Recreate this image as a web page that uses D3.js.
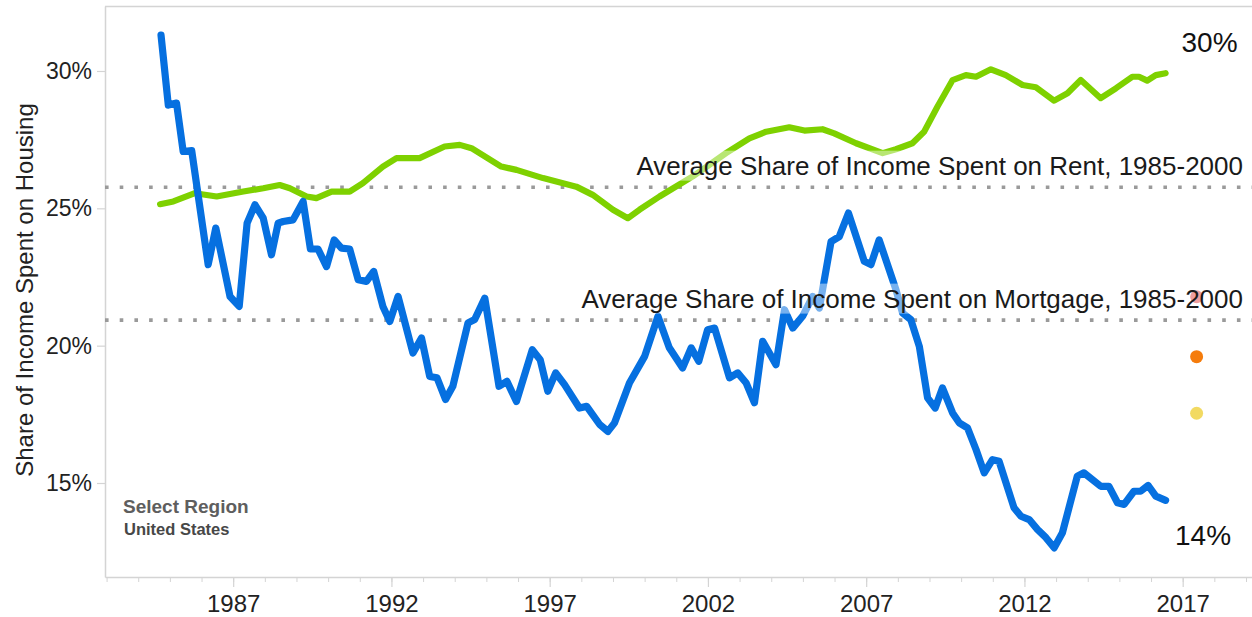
<!DOCTYPE html>
<html><head><meta charset="utf-8">
<script src="https://cdn.jsdelivr.net/npm/d3@7"></script>
<style>
body{margin:0;background:#fff;}
svg{display:block;font-family:"Liberation Sans",Arial,sans-serif;}
</style>
</head><body>
<svg id="c" width="1252" height="617"></svg>
<script>
// ---- data ----
const mortgageYears = [1984.72,1984.95,1985.21,1985.42,1985.69,1986.21,1986.45,1986.90,1987.19,1987.44,
1987.69,1987.95,1988.21,1988.42,1988.58,1988.89,1989.21,1989.44,1989.68,1989.95,
1990.19,1990.42,1990.68,1990.95,1991.21,1991.44,1991.73,1991.95,1992.21,1992.68,
1992.95,1993.21,1993.44,1993.71,1993.94,1994.42,1994.63,1994.95,1995.40,1995.65,
1995.95,1996.45,1996.70,1996.94,1997.19,1997.47,1997.94,1998.17,1998.58,1998.84,
1999.05,1999.52,2000.00,2000.42,2000.78,2001.20,2001.47,2001.71,2001.99,2002.21,
2002.68,2002.94,2003.21,2003.47,2003.73,2004.15,2004.42,2004.68,2004.99,2005.31,
2005.52,2005.89,2006.15,2006.44,2006.94,2007.15,2007.41,2007.94,2008.15,2008.41,
2008.68,2008.94,2009.18,2009.41,2009.73,2009.94,2010.20,2010.47,2010.73,2010.99,
2011.20,2011.67,2011.89,2012.15,2012.41,2012.68,2012.94,2013.20,2013.67,2013.88,
2014.41,2014.67,2014.94,2015.15,2015.46,2015.67,2015.91,2016.15,2016.46];
const mortgageShare = [31.31,28.76,28.83,27.07,27.10,22.95,24.28,21.79,21.43,24.46,
25.13,24.64,23.31,24.46,24.52,24.58,25.25,23.52,23.52,22.88,
23.85,23.55,23.52,22.40,22.34,22.70,21.43,20.88,21.79,19.73,
20.28,18.88,18.83,18.04,18.52,20.83,20.95,21.73,18.52,18.70,
17.97,19.85,19.49,18.34,19.01,18.58,17.73,17.79,17.13,16.88,
17.19,18.64,19.61,21.07,19.92,19.19,19.92,19.43,20.58,20.64,
18.83,19.01,18.64,17.92,20.16,19.31,21.31,20.64,21.07,21.79,
21.37,23.79,23.97,24.83,23.07,22.95,23.85,22.04,21.19,20.95,
19.97,18.10,17.73,18.46,17.55,17.19,17.01,16.22,15.37,15.85,
15.79,14.10,13.79,13.67,13.31,13.01,12.64,13.19,15.25,15.37,
14.88,14.88,14.28,14.22,14.70,14.70,14.91,14.52,14.37];

const rentYears = [1984.69,1985.11,1985.79,1986.48,1987.32,1987.95,1988.47,1988.79,1989.32,1989.63,
1990.11,1990.68,1991.10,1991.73,1992.16,1992.89,1993.68,1994.16,1994.53,1995.47,
1995.95,1996.79,1997.84,1998.36,1999.00,1999.47,1999.84,2000.47,2001.52,2002.57,
2003.31,2003.84,2004.57,2005.05,2005.62,2005.99,2006.68,2007.52,2007.94,2008.46,
2008.83,2009.25,2009.73,2010.15,2010.47,2010.94,2011.41,2011.94,2012.36,2012.94,
2013.36,2013.78,2014.41,2014.89,2015.41,2015.62,2015.88,2016.15,2016.46];
const rentShare = [25.15,25.25,25.55,25.43,25.61,25.73,25.85,25.73,25.43,25.37,
25.61,25.61,25.92,26.52,26.83,26.83,27.25,27.31,27.19,26.52,
26.40,26.10,25.79,25.49,24.95,24.64,24.95,25.43,26.16,27.01,
27.55,27.79,27.95,27.83,27.88,27.73,27.37,27.01,27.15,27.37,
27.79,28.70,29.67,29.85,29.79,30.06,29.85,29.49,29.41,28.92,
29.19,29.67,29.01,29.37,29.79,29.79,29.65,29.85,29.92];

const avgRent = 25.77;
const avgMortgage = 20.93;
const avgLabels = ["Average Share of Income Spent on Rent, 1985-2000",
                   "Average Share of Income Spent on Mortgage, 1985-2000"];
const markerYear = 2017.44;
const markerShare = [21.78, 19.60, 17.54];
const endLabels = ["30%", "14%"];
const yTicks = [15, 20, 25, 30];
const xMajorTicks = [1987, 1992, 1997, 2002, 2007, 2012, 2017];
const xMinorTicks = d3.range(1983, 2020);

// ---- styles ----
const markerColors = ["#e05050", "#f57c0c", "#f2da62"];
const axisColor = "#d4d4d4";

// ---- scales ----
const svg = d3.select("#c");
const x = d3.scaleLinear().domain([1982.95, 2019.19]).range([105, 1252]);
const y = d3.scaleLinear().domain([11.578, 32.366]).range([577, 6]);

// top border
svg.append("line").attr("x1", 105).attr("x2", 1252).attr("y1", 6.5).attr("y2", 6.5)
  .attr("stroke", axisColor).attr("stroke-width", 1.5);

// y axis
const ya = svg.append("g").attr("transform", "translate(105,0)")
  .call(d3.axisLeft(y).tickValues(yTicks).tickFormat(d => d + "%").tickSize(8).tickPadding(5).tickSizeOuter(0));
ya.select(".domain").attr("stroke", axisColor).attr("stroke-width", 1.5);
ya.selectAll(".tick line").attr("stroke", axisColor).attr("stroke-width", 1.2);
ya.selectAll(".tick text").attr("fill", "#222").style("font-size", "23px")
  .style("font-family", "'Liberation Sans',Arial,sans-serif");

// x axis minor ticks
const xm = svg.append("g").attr("transform", "translate(0,577)")
  .call(d3.axisBottom(x).tickValues(xMinorTicks).tickFormat("").tickSize(5).tickSizeOuter(0));
xm.select(".domain").attr("stroke", axisColor).attr("stroke-width", 1.5);
xm.selectAll(".tick line").attr("stroke", axisColor).attr("stroke-width", 1);

// x axis major
const xa = svg.append("g").attr("transform", "translate(0,577)")
  .call(d3.axisBottom(x).tickValues(xMajorTicks).tickFormat(d3.format("d")).tickSize(10).tickPadding(8).tickSizeOuter(0));
xa.select(".domain").remove();
xa.selectAll(".tick line").attr("stroke", axisColor).attr("stroke-width", 1.2);
xa.selectAll(".tick text").attr("fill", "#222").style("font-size", "24px")
  .style("font-family", "'Liberation Sans',Arial,sans-serif");

// y title
svg.append("text")
  .attr("transform", "translate(32.5,290) rotate(-90)")
  .attr("text-anchor", "middle").attr("fill", "#222").style("font-size", "24px")
  .text("Share of Income Spent on Housing");

// dotted average lines
[avgRent, avgMortgage].forEach(v => {
  svg.append("line").attr("x1", 105).attr("x2", 1252).attr("y1", y(v)).attr("y2", y(v))
    .attr("stroke", "#9a9a9a").attr("stroke-width", 3.6).attr("stroke-dasharray", "3.6 11.1");
});

// series lines
const line = d3.line().x(d => x(d[0])).y(d => y(d[1]));
svg.append("path").datum(d3.zip(rentYears, rentShare)).attr("d", line)
  .attr("fill", "none").attr("stroke", "#7ed100").attr("stroke-width", 6.2)
  .attr("stroke-linejoin", "round").attr("stroke-linecap", "round");
svg.append("path").datum(d3.zip(mortgageYears, mortgageShare)).attr("d", line)
  .attr("fill", "none").attr("stroke", "#0670e0").attr("stroke-width", 7.2)
  .attr("stroke-linejoin", "round").attr("stroke-linecap", "round");

// markers
svg.selectAll("circle.mk").data(markerShare).enter().append("circle").attr("class", "mk")
  .attr("cx", x(markerYear)).attr("cy", d => y(d)).attr("r", 6.5)
  .attr("fill", (d, i) => markerColors[i]);

// average labels with translucent backgrounds
const baselines = [avgRent, avgMortgage];
baselines.forEach((v, i) => {
  const g = svg.append("g");
  const t = g.append("text").attr("x", 1243).attr("y", y(v) - 12.5)
    .attr("text-anchor", "end").attr("fill", "#1a1a1a").style("font-size", "26px")
    .text(avgLabels[i]);
  const bb = t.node().getBBox();
  g.insert("rect", "text").attr("x", bb.x).attr("y", bb.y).attr("width", bb.width).attr("height", bb.height)
    .attr("fill", "#fff").attr("opacity", 0.45);
});

// end labels
svg.append("text").attr("x", 1181.5).attr("y", 52).attr("fill", "#111").style("font-size", "28px").text(endLabels[0]);
svg.append("text").attr("x", 1175).attr("y", 545).attr("fill", "#111").style("font-size", "28px").text(endLabels[1]);

// region note
svg.append("text").attr("x", 123).attr("y", 513).attr("fill", "#5e5e5e")
  .style("font-size", "19px").style("font-weight", "bold").text("Select Region");
svg.append("text").attr("x", 124).attr("y", 535).attr("fill", "#474747")
  .style("font-size", "16.5px").style("font-weight", "bold").text("United States");
</script>
</body></html>
